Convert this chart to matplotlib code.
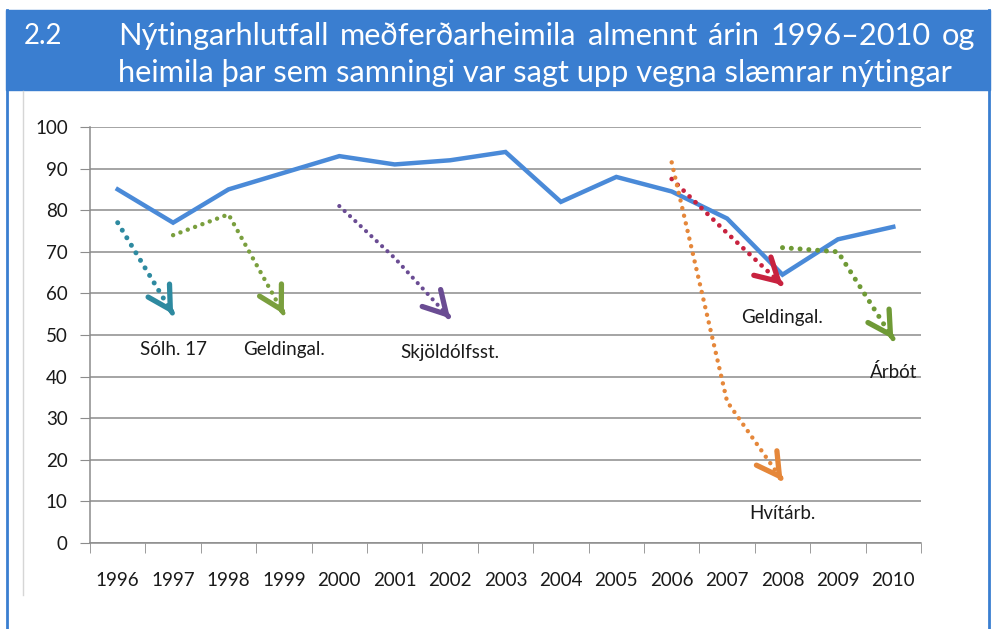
import matplotlib.pyplot as plt
from matplotlib.patches import Rectangle
from matplotlib.lines import Line2D

plt.rcParams['font.family'] = ['Lato', 'DejaVu Sans']

years = ['1996', '1997', '1998', '1999', '2000', '2001', '2002', '2003',
         '2004', '2005', '2006', '2007', '2008', '2009', '2010']
almennt = [85, 77, 85, 89, 93, 91, 92, 94, 82, 88, 84.5, 78, 64.5, 73, 76]

# closed homes: (label, colour, start index, values, label position, dot size)
solh_vals = [77, 55]
geld1_vals = [74, 79, 55]
skjold_vals = [81, 68.5, 54]
geld2_vals = [87.5, 74.5, 62]
hvitarb_vals = [91.5, 34, 15]
arbot_vals = [71, 70, 49]

homes = [
    ('Sólh. 17', '#2E8AA0', 0, solh_vals, (1.0, 46.4), 3.6),
    ('Geldingal.', '#7A9F3E', 1, geld1_vals, (3.0, 46.4), 3.2),
    ('Skjöldólfsst.', '#6A4C93', 4, skjold_vals, (6.0, 45.7), 3.0),
    ('Geldingal.', '#C8223F', 10, geld2_vals, (12.0, 54.1), 3.4),
    ('Hvítárb.', '#E5873A', 10, hvitarb_vals, (12.0, 7.2), 3.2),
    ('Árbót', '#6F9A36', 12, arbot_vals, (14.0, 41.2), 3.6),
]

title_num = '2.2'
title_line1 = 'Nýtingarhlutfall meðferðarheimila almennt árin 1996–2010 og'
title_line2 = 'heimila þar sem samningi var sagt upp vegna slæmrar nýtingar'

W, H = 993, 629
fig = plt.figure(figsize=(W / 100, H / 100), dpi=100)


def fx(px):
    return px / W


def fy(py):
    return 1 - py / H


# header band and page frame
fig.patches.append(Rectangle((fx(6), fy(90)), fx(990) - fx(6), fy(10) - fy(90),
                             transform=fig.transFigure, color='#3A7ED0', zorder=0))
fig.lines.append(Line2D([fx(7), fx(7)], [fy(10), 0], transform=fig.transFigure,
                        color='#3A7ED0', lw=2))
fig.lines.append(Line2D([fx(989), fx(989)], [fy(10), 0], transform=fig.transFigure,
                        color='#3A7ED0', lw=2))
fig.lines.append(Line2D([fx(23), fx(23)], [fy(91), fy(595)], transform=fig.transFigure,
                        color='#d6d6d6', lw=1))

ax = fig.add_axes([fx(90), fy(543), fx(921) - fx(90), fy(127) - fy(543)])
x = list(range(len(years)))
ax.plot(x, almennt, color='#4A8AD8', lw=3.2, solid_joinstyle='miter', zorder=3)

for label, color, start, vals, (lx, ly), lw in homes:
    xs = list(range(start, start + len(vals)))
    ax.plot(xs, vals, color=color, lw=lw, ls=(0, (0.01, 1.75)),
            dash_capstyle='round', zorder=4)
    # open arrow head at the last point
    x0, y0 = xs[-2], vals[-2]
    x1, y1 = xs[-1], vals[-1]
    ax.annotate('', xy=(x1, y1), xytext=(x1 - 0.03 * (x1 - x0), y1 - 0.03 * (y1 - y0)),
                arrowprops=dict(arrowstyle='->,head_length=0.8,head_width=0.45',
                                color=color, lw=3.8, shrinkA=0, shrinkB=0,
                                mutation_scale=20), zorder=5)
    ax.text(lx, ly, label, ha='center', va='center', fontsize=13.5, color='#1a1a1a')

ax.set_xlim(-0.5, len(years) - 0.5)
ax.set_ylim(0, 100)
ax.set_yticks(range(0, 101, 10))
ax.set_xticks(x)
ax.set_xticklabels(years)
ax.set_xticks([i - 0.5 for i in range(len(years) + 1)], minor=True)
ax.grid(axis='y', color='#8c8c8c', lw=1.1)
ax.set_axisbelow(True)
for s in ['top', 'right']:
    ax.spines[s].set_visible(False)
for s in ['left', 'bottom']:
    ax.spines[s].set_color('#8c8c8c')
    ax.spines[s].set_linewidth(1.1)
ax.tick_params(axis='y', length=7, color='#8c8c8c', pad=9, labelsize=13.5,
               labelcolor='#1a1a1a')
ax.tick_params(axis='x', which='major', length=0, pad=21, labelsize=13.5,
               labelcolor='#1a1a1a')
ax.tick_params(axis='x', which='minor', length=7, color='#8c8c8c')

# header text, justified on the first line
fig.text(fx(24), fy(36), title_num, color='white', fontsize=20, va='center')
fig.canvas.draw()
r = fig.canvas.get_renderer()
probe = fig.text(0, 0, title_line2, fontsize=20)
w2 = probe.get_window_extent(r).width
probe.remove()
fs = 20 * (955 - 118) / w2
fig.text(fx(118), fy(73), title_line2, color='white', fontsize=fs, va='center')

words = title_line1.split()
objs = [fig.text(0, fy(36), w_, color='white', fontsize=fs, va='center') for w_ in words]
widths = [o.get_window_extent(r).width for o in objs]
gap = (975 - 118 - sum(widths)) / (len(words) - 1)
pos = 118
for o, wd in zip(objs, widths):
    o.set_x(fx(pos))
    pos += wd + gap

fig.savefig('out.png', dpi=100)
